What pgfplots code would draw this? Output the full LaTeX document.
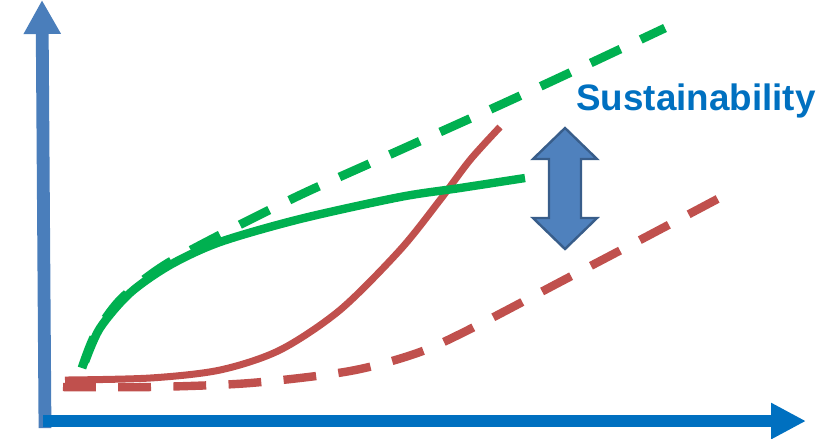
\documentclass[border=0pt]{standalone}
\usepackage{pgfplots}
\pgfplotsset{compat=1.18}
\usetikzlibrary{arrows.meta}
\usepackage{fontspec}
\setmainfont{Liberation Sans}
\definecolor{axblue}{HTML}{4A7EBB}
\definecolor{axblue2}{HTML}{0070C0}
\definecolor{cgreen}{HTML}{00B050}
\definecolor{cred}{HTML}{C0504D}
\definecolor{arrfill}{HTML}{4F81BD}
\definecolor{arredge}{HTML}{385D8A}
\begin{document}
\begin{tikzpicture}
\begin{axis}[
  scale only axis, width=205.5pt, height=109.5pt,
  xmin=0, xmax=822, ymin=0, ymax=438, y dir=reverse,
  hide axis, clip=false,
]
\coordinate (bl) at (axis cs:0,438);
\coordinate (tr) at (axis cs:822,0);
% red dashed
\addplot[cred, line width=2.1pt, dash pattern=on 8.2pt off 5.6pt, smooth, tension=0.5] coordinates {
(63,387) (150,387) (250,383) (350,371) (420,352) (480,324) (560,282) (640,240) (725,195)};
% red solid
\addplot[cred, line width=1.75pt, smooth, tension=0.5] coordinates {
(65,380) (150,378) (220,370) (280,350) (340,310) (400,250) (440,200) (470,160) (500,127)};
% green dashed
\addplot[cgreen, line width=2.2pt, dash pattern=on 8.2pt off 5.6pt, smooth, tension=0.5] coordinates {
(82,368) (95,335) (120,300) (160,268) (210,240) (300,195) (400,150) (500,105) (580,68) (665,28)};
% green solid
\addplot[cgreen, line width=2.1pt, smooth, tension=0.5] coordinates {
(85,362) (100,328) (130,293) (170,265) (220,242) (300,219) (400,197) (460,188) (525,178)};
% axes
\addplot[axblue, line width=3.2pt, -{Triangle[width=8.75pt,length=8.5pt]}] coordinates {(45,428) (42,0)};
\addplot[axblue2, line width=3pt, -{Triangle[width=8.5pt,length=8.75pt]}] coordinates {(43,421) (806,421)};
% double arrow
\addplot[arredge, fill=arrfill, line width=0.6pt] coordinates {
(565,128) (597,159) (581,159) (581,218) (597,218) (565,249) (533,218) (549,218) (549,159) (533,159)} -- cycle;
\node[anchor=base, text=axblue2, font=\fontsize{9.2pt}{10pt}\selectfont\bfseries, inner sep=0pt] at (axis cs:696,110) {Sustainability};
\end{axis}
\pgfresetboundingbox
\path (bl) rectangle (tr);
\end{tikzpicture}
\end{document}
